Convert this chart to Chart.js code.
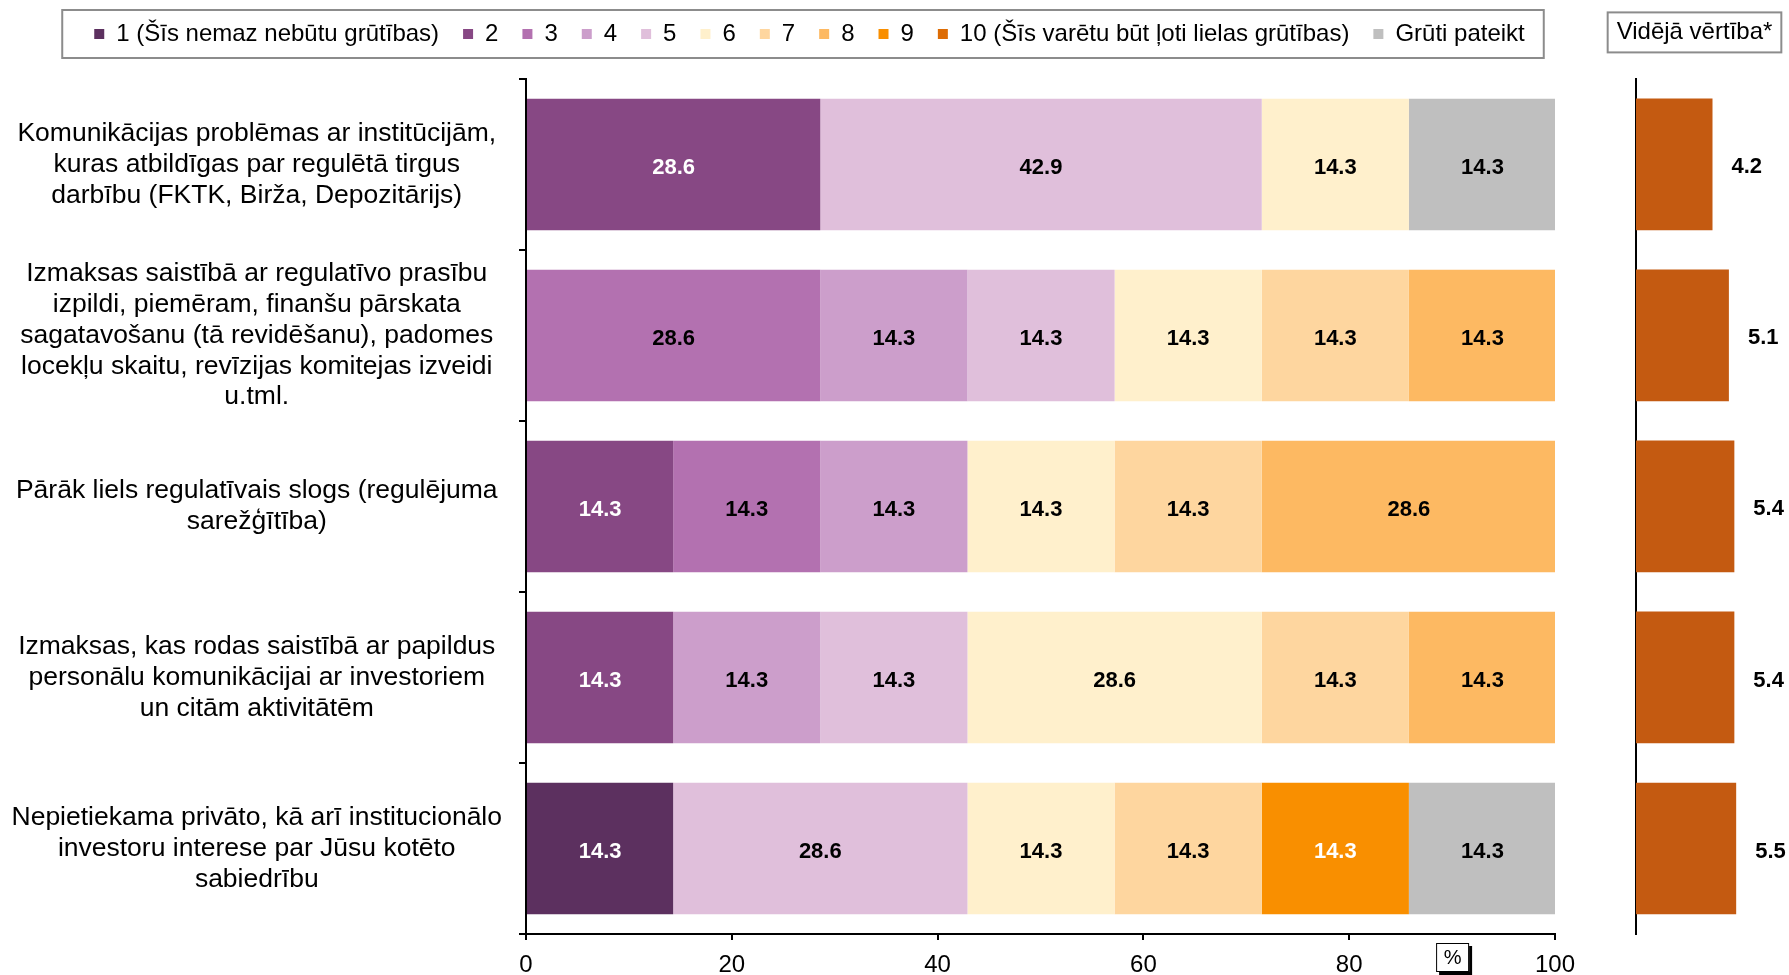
<!DOCTYPE html>
<html lang="lv">
<head>
<meta charset="utf-8">
<title>Grūtības</title>
<script src="https://cdn.jsdelivr.net/npm/chart.js@4.4.1/dist/chart.umd.min.js"></script>
<style>
    body { margin: 0; background: #fff; }
    #wrap { position: relative; width: 1789px; height: 975px; }
    #main-chart { position: absolute; left: 0; top: 0; }
    #mean-chart { position: absolute; left: 1600px; top: 0; }
</style>
</head>
<body>
<div id="wrap">
    <canvas id="main-chart" width="1600" height="975"></canvas>
    <canvas id="mean-chart" width="189" height="975"></canvas>
</div>
<script>
const categories = [
    ['Komunikācijas problēmas ar institūcijām,', 'kuras atbildīgas par regulētā tirgus', 'darbību (FKTK, Birža, Depozitārijs)'],
    ['Izmaksas saistībā ar regulatīvo prasību', 'izpildi, piemēram, finanšu pārskata', 'sagatavošanu (tā revidēšanu), padomes', 'locekļu skaitu, revīzijas komitejas izveidi', 'u.tml.'],
    ['Pārāk liels regulatīvais slogs (regulējuma', 'sarežģītība)'],
    ['Izmaksas, kas rodas saistībā ar papildus', 'personālu komunikācijai ar investoriem', 'un citām aktivitātēm'],
    ['Nepietiekama privāto, kā arī institucionālo', 'investoru interese par Jūsu kotēto', 'sabiedrību']
];

const seriesNames = ['1 (Šīs nemaz nebūtu grūtības)', '2', '3', '4', '5', '6', '7', '8', '9',
    '10 (Šīs varētu būt ļoti lielas grūtības)', 'Grūti pateikt'];

// procenti pa kategorijām, katrai atbildei
const score1 = [0, 0, 0, 0, 14.3];
const score2 = [28.6, 0, 14.3, 14.3, 0];
const score3 = [0, 28.6, 14.3, 0, 0];
const score4 = [0, 14.3, 14.3, 14.3, 0];
const score5 = [42.9, 14.3, 0, 14.3, 28.6];
const score6 = [14.3, 14.3, 14.3, 28.6, 14.3];
const score7 = [0, 14.3, 14.3, 14.3, 14.3];
const score8 = [0, 14.3, 28.6, 14.3, 0];
const score9 = [0, 0, 0, 0, 14.3];
const score10 = [0, 0, 0, 0, 0];
const hardToSay = [14.3, 0, 0, 0, 14.3];

const meanValues = [4.2, 5.1, 5.4, 5.4, 5.5];
const xTicks = [0, 20, 40, 60, 80, 100];

const seriesValues = [score1, score2, score3, score4, score5, score6, score7, score8, score9, score10, hardToSay];
const seriesColors = ['#5c305f', '#874884', '#b371b0', '#cc9ecb', '#e0bfdb', '#fff0cc', '#fed69f', '#fdb962', '#f98f00', '#dd6c05', '#bfbfbf'];
const whiteText = [true, true, false, false, false, false, false, false, true, true, false];

const FONT = 'Arial, "Liberation Sans", sans-serif';
Chart.defaults.font.family = FONT;
Chart.defaults.color = '#000';

const segmentLabels = {
    id: 'segmentLabels',
    afterDatasetsDraw(chart) {
        const ctx = chart.ctx;
        ctx.save();
        ctx.font = 'bold 22px ' + FONT;
        ctx.textAlign = 'center';
        ctx.textBaseline = 'middle';
        chart.data.datasets.forEach((ds, i) => {
            chart.getDatasetMeta(i).data.forEach((bar, j) => {
                const v = ds.data[j];
                if (!v) return;
                ctx.fillStyle = whiteText[i] ? '#fff' : '#000';
                ctx.fillText(v.toFixed(1), (bar.x + bar.base) / 2, bar.y + 3);
            });
        });
        ctx.restore();
    }
};

const legendFrame = {
    id: 'legendFrame',
    afterInit(chart) {
        // vieta starp leģendu un grafiku
        const legend = chart.legend;
        const fit = legend.fit;
        legend.fit = function () { fit.call(this); this.height += 21; };
    },
    afterLayout(chart) {
        // leģenda nedaudz pa labi un augstāk, kā oriģinālā
        chart.legend.left += 32;
        chart.legend.right += 32;
        chart.legend.top -= 2;
        chart.legend.bottom -= 2;
    },
    afterDraw(chart) {
        const boxes = chart.legend.legendHitBoxes;
        if (!boxes || !boxes.length) return;
        const left = Math.min(...boxes.map(b => b.left)) - 32;
        const right = Math.max(...boxes.map(b => b.left + b.width)) + 19;
        const cy = boxes[0].top + boxes[0].height / 2;
        const ctx = chart.ctx;
        ctx.save();
        ctx.strokeStyle = '#8c8c8c';
        ctx.lineWidth = 2;
        ctx.strokeRect(left, cy - 24, right - left, 48);
        ctx.restore();
    }
};

const unitBox = {
    id: 'unitBox',
    afterDraw(chart) {
        const ctx = chart.ctx;
        const x = chart.scales.x.getPixelForValue(90);
        const y = chart.scales.x.top + 23;
        ctx.save();
        ctx.fillStyle = '#000';
        ctx.fillRect(x - 16 + 3, y - 14 + 3, 33, 29);
        ctx.fillStyle = '#fff';
        ctx.fillRect(x - 16, y - 14, 33, 29);
        ctx.strokeStyle = '#000';
        ctx.lineWidth = 1;
        ctx.strokeRect(x - 16 + 0.5, y - 14 + 0.5, 32, 28);
        ctx.fillStyle = '#000';
        ctx.font = '20px ' + FONT;
        ctx.textAlign = 'center';
        ctx.textBaseline = 'middle';
        ctx.fillText('%', x + 0.5, y + 1);
        ctx.restore();
    }
};

const mainChart = new Chart(document.getElementById('main-chart'), {
    type: 'bar',
    data: {
        labels: categories,
        datasets: seriesNames.map((name, i) => ({
            label: name,
            data: seriesValues[i],
            backgroundColor: seriesColors[i],
            borderWidth: 0,
            barPercentage: 0.77,
            categoryPercentage: 1
        }))
    },
    options: {
        indexAxis: 'y',
        responsive: false,
        animation: false,
        events: [],
        layout: { padding: { left: 0, right: 45, top: 0, bottom: 0 } },
        plugins: {
            legend: {
                position: 'top',
                labels: { boxWidth: 10, boxHeight: 10, padding: 24, font: { size: 24 }, color: '#000' }
            },
            tooltip: { enabled: false }
        },
        scales: {
            x: {
                stacked: true,
                min: 0,
                max: 100,
                afterBuildTicks: s => { s.ticks = xTicks.map(v => ({ value: v })); },
                afterFit: s => { s.height = 41; },
                ticks: { padding: 11, font: { size: 24 }, color: '#000' },
                grid: { drawOnChartArea: false, tickLength: 6, color: '#000', lineWidth: 2 },
                border: { color: '#000', width: 2 }
            },
            y: {
                stacked: true,
                afterFit: s => { s.width = 526; s.paddingTop = 0; s.paddingBottom = 0; },
                ticks: { crossAlign: 'center', padding: 17, autoSkip: false, font: { size: 26.5, lineHeight: 1.16 }, color: '#000' },
                grid: { offset: true, drawOnChartArea: false, tickLength: 7, color: '#000', lineWidth: 2 },
                border: { color: '#000', width: 2 }
            }
        }
    },
    plugins: [segmentLabels, legendFrame, unitBox]
});

const meanLabels = {
    id: 'meanLabels',
    afterDatasetsDraw(chart) {
        const ctx = chart.ctx;
        ctx.save();
        ctx.font = 'bold 22px ' + FONT;
        ctx.textAlign = 'left';
        ctx.textBaseline = 'middle';
        ctx.fillStyle = '#000';
        chart.getDatasetMeta(0).data.forEach((bar, j) => {
            ctx.fillText(meanValues[j].toFixed(1), bar.x + 19, bar.y + 3);
        });
        ctx.restore();
    }
};

const titleFrame = {
    id: 'titleFrame',
    afterDraw(chart) {
        const tb = chart.titleBlock;
        const ctx = chart.ctx;
        ctx.save();
        ctx.font = '24px ' + FONT;
        const w = ctx.measureText(chart.options.plugins.title.text).width;
        const cx = (tb.left + tb.right) / 2;
        const cy = tb.top + 18 + 14.4;
        ctx.strokeStyle = '#8c8c8c';
        ctx.lineWidth = 2;
        ctx.strokeRect(cx - w / 2 - 9, cy - 20, w + 18, 40);
        ctx.restore();
    }
};

const meanChart = new Chart(document.getElementById('mean-chart'), {
    type: 'bar',
    data: {
        labels: categories,
        datasets: [{
            label: 'Vidējā vērtība*',
            data: meanValues,
            backgroundColor: '#c45a11',
            borderWidth: 0,
            barPercentage: 0.77,
            categoryPercentage: 1
        }]
    },
    options: {
        indexAxis: 'y',
        responsive: false,
        animation: false,
        events: [],
        layout: { padding: { left: 0, right: 0, top: 0, bottom: 41 } },
        plugins: {
            legend: { display: false },
            tooltip: { enabled: false },
            title: {
                display: true,
                text: 'Vidējā vērtība*',
                color: '#000',
                font: { size: 24, weight: 'normal', lineHeight: 1.2 },
                padding: { top: 18, bottom: 32 }
            }
        },
        scales: {
            x: { display: false, min: 0, max: 8.4 },
            y: {
                afterFit: s => { s.width = 36; s.paddingTop = 0; s.paddingBottom = 0; },
                ticks: { display: false },
                grid: { display: false },
                border: { color: '#000', width: 2 }
            }
        }
    },
    plugins: [meanLabels, titleFrame]
});
</script>
</body>
</html>
